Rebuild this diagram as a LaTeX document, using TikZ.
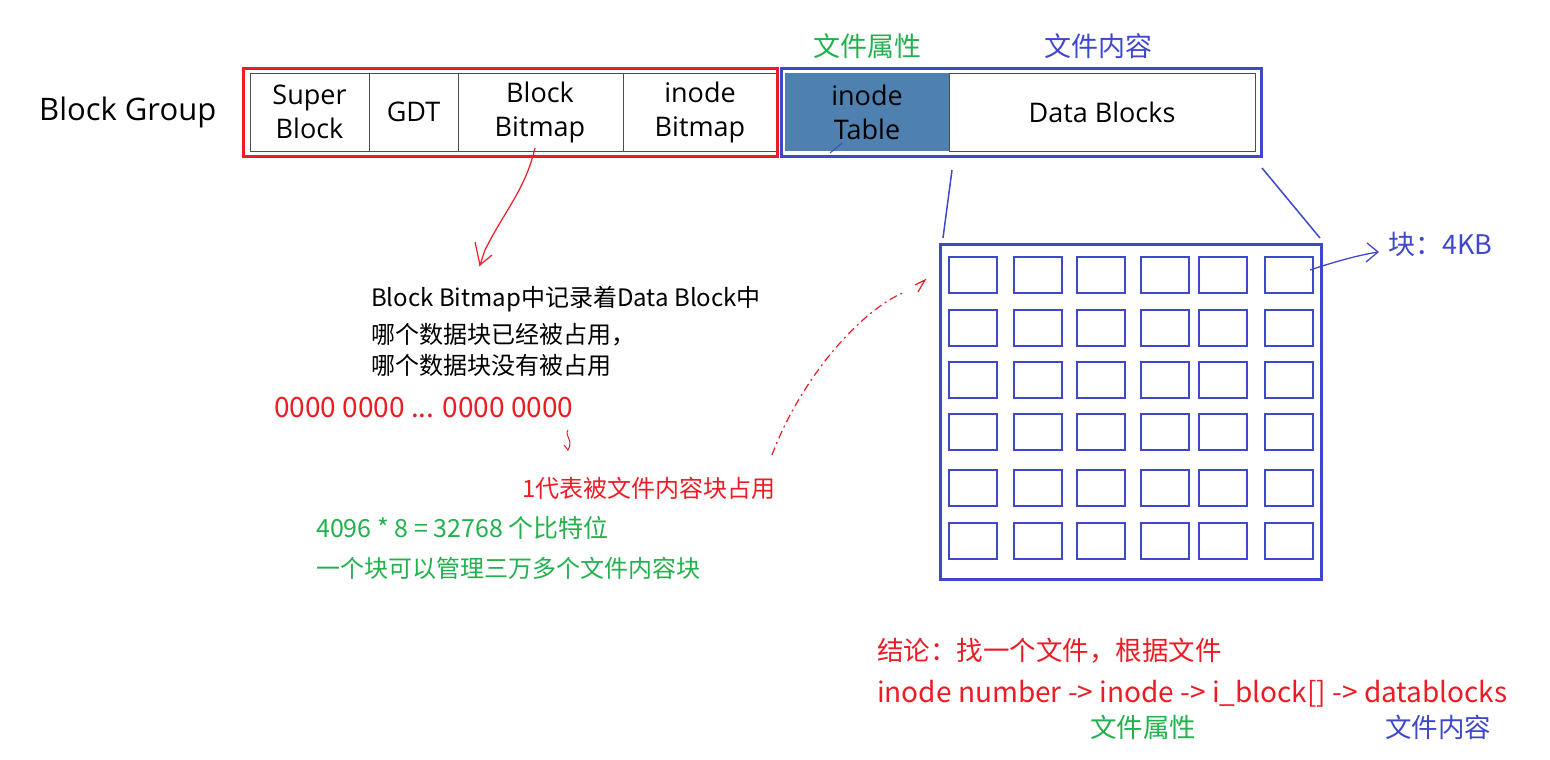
\documentclass[tikz,border=0pt]{standalone}
\usepackage{fontspec}
\setmainfont{Noto Sans CJK SC}
\newfontfamily\barfont{Open Sans}
\usetikzlibrary{arrows.meta,decorations.pathmorphing}
\definecolor{myred}{RGB}{237,28,36}
\definecolor{myblue}{RGB}{63,72,204}
\definecolor{mygreen}{RGB}{34,177,76}
\definecolor{steel}{RGB}{78,128,176}
\begin{document}
\begin{tikzpicture}[x=1pt,y=-1pt,
 cell/.style={draw=black!70,line width=0.8pt},
 box/.style={draw=myblue,line width=3pt},
 btxt/.style={font=\barfont\fontsize{27}{34}\selectfont,align=center,text=black,inner sep=0pt},
 t/.style={font=\fontsize{24}{28}\selectfont,anchor=west,inner sep=0pt}]
\useasboundingbox (0,0) rectangle (1550,760);
% bar
\fill[white] (250,73) rectangle (777,151);
\fill[steel] (785,73) rectangle (949,151);
\foreach \a/\b in {250/369,369/458,458/623,623/777,949/1255}{\draw[cell] (\a,73) rectangle (\b,151);}
\node[btxt] (sb) at (309.5,112) {Super\\Block};
\node[btxt] (gdt) at (413.5,112) {GDT};
\node[btxt] (bb) at (540,112) {Block\\Bitmap};
\node[btxt] (ib) at (700,112) {inode\\Bitmap};
\node[btxt] (it) at (867,112) {inode\\Table};
\node[btxt] (db) at (1102,112) {Data Blocks};
\node[btxt,anchor=west,font=\barfont\fontsize{31}{34}\selectfont] (bg) at (39,112) {Block Group};
\draw[myred,line width=3pt] (243,69) rectangle (777,156);
\draw[myblue,line width=3pt] (781,69) rectangle (1261,156);
\node[font=\fontsize{27}{30}\selectfont,text=mygreen] (a1) at (867,46) {文件属性};
\node[font=\fontsize{27}{30}\selectfont,text=myblue] (a2) at (1098,46) {文件内容};
\draw[myblue,line width=1pt] (830,153) -- (842,143);
% squiggle
\draw[myred,line width=1.2pt] (535,148) .. controls (525,190) and (505,210) .. (485,250) -- (480,265) -- (492,255);
\draw[myred,line width=1.2pt] (475,242) -- (480,265);
% texts
\node[t] (n1) at (371,299) {Block Bitmap中记录着Data Block中};
\node[t] (n2) at (371,335) {哪个数据块已经被占用，};
\node[t] (n3) at (371,365) {哪个数据块没有被占用};
\node[t,text=myred,font=\fontsize{28}{30}\selectfont] (bits) at (274,408) {0000 0000 ... 0000 0000};
\coordinate (s1) at (568,430);
\draw[myred,line width=1pt] (s1) .. controls (564,436) and (574,440) .. (568,450) -- (564,445);
\node[t,text=myred] (one) at (522,488) {1代表被文件内容块占用};
\node[t,text=mygreen,font=\fontsize{25}{28}\selectfont] (g1) at (316,528) {4096 * 8 = 32768 个比特位};
\node[t,text=mygreen] (g2) at (316,568) {一个块可以管理三万多个文件内容块};
% dashed curve
\draw[myred,line width=1.2pt,dash pattern=on 8pt off 4pt on 2pt off 4pt] (772,455) .. controls (800,380) and (860,310) .. (905,292);
\draw[myred,line width=1.2pt] (915,285) -- (925,280) -- (918,292);
% grid
\draw[box] (940,244) rectangle (1321,579);
\foreach \x in {949,1014,1077,1141,1199,1265}{
 \foreach \y in {257,310,362,414,470,523}{
  \draw[myblue,line width=2.5pt] (\x,\y) rectangle ++(48,36);}}
\coordinate (g) at (1310,270);
\draw[myblue,line width=1.5pt] (952,170) -- (943,238);
\draw[myblue,line width=1.5pt] (1262,168) -- (1320,238);
\draw[myblue,line width=1.3pt] (g) .. controls (1340,260) and (1360,255) .. (1378,252);
\draw[myblue,line width=1.3pt] (1367,243) -- (1378,252) -- (1366,262);
\node[t,text=myblue,font=\fontsize{27}{30}\selectfont] (kb) at (1388,244) {块：4KB};
% bottom
\node[t,text=myred,font=\fontsize{26.5}{30}\selectfont] (c1) at (877,651) {结论：找一个文件，根据文件};
\node[t,text=myred,font=\fontsize{28}{30}\selectfont] (c2) at (877,694) {inode number -> inode -> i\_block[] -> datablocks};
\node[text=mygreen,font=\fontsize{26.5}{30}\selectfont] (c3) at (1143,727) {文件属性};
\node[text=myblue,font=\fontsize{26.5}{30}\selectfont] (c4) at (1438,727) {文件内容};
\end{tikzpicture}
\end{document}
